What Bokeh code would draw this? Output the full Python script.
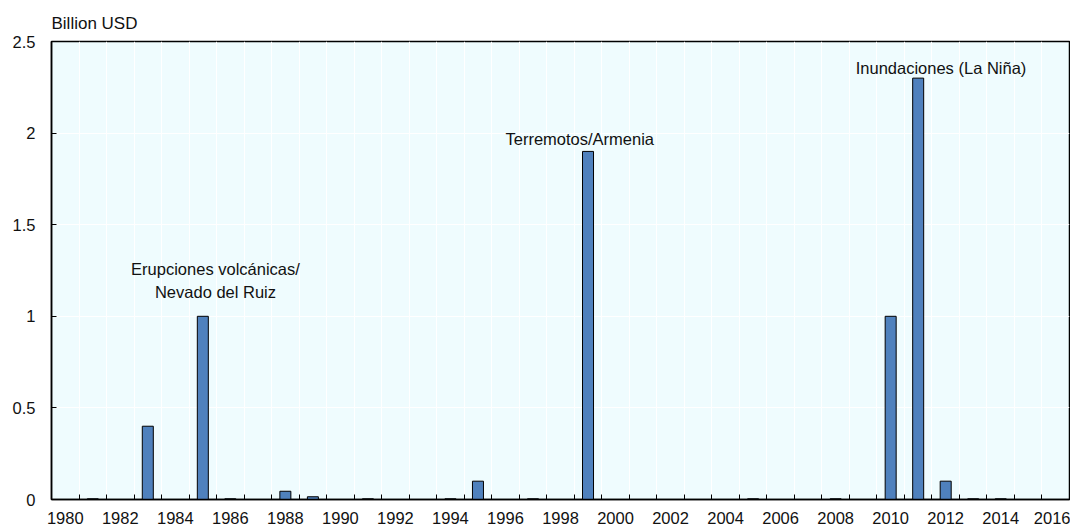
from bokeh.plotting import figure
from bokeh.models import Range1d, FixedTicker, ColumnDataSource
from bokeh.embed import file_html
from bokeh.resources import INLINE
from bokeh.core.properties import value

# ---- data ----
years = list(range(1980, 2017))
losses = [0, 0.004, 0, 0.40, 0, 1.0, 0.004, 0, 0.045, 0.015,
          0, 0.004, 0, 0, 0.004, 0.10, 0, 0.004, 0, 1.90,
          0, 0, 0, 0, 0, 0.004, 0, 0, 0.004, 0,
          1.0, 2.30, 0.10, 0.004, 0.004, 0, 0]
y_ticks = [0, 0.5, 1, 1.5, 2, 2.5]
y_tick_labels = ["0", "0.5", "1", "1.5", "2", "2.5"]
x_label_years = list(range(1980, 2017, 2))
x_tick_labels = [str(y) for y in x_label_years]

ann_text = ["Erupciones volcánicas/", "Nevado del Ruiz", "Terremotos/Armenia", "Inundaciones (La Niña)"]
ann_x = [1985.46, 1985.46, 1998.7, 2011.83]
ann_y = [1.257, 1.131, 1.966, 2.358]

FONT = "Liberation Sans"
FS = "16.5px"

bx = [x for x, v in zip(years, losses) if v > 0]
bv = [v for v in losses if v > 0]
src = ColumnDataSource(dict(x=bx, top=bv))

p = figure(width=1070, height=526, output_backend="svg", toolbar_location=None,
           x_range=Range1d(years[0] - 0.5, years[-1] + 0.5),
           y_range=Range1d(0, 2.5),
           min_border_left=51, min_border_right=1, min_border_top=41, min_border_bottom=25)

p.background_fill_color = "#EFFCFE"
p.border_fill_color = "white"
p.outline_line_color = "black"
p.outline_line_width = 1.5

p.title.text = "Billion USD"
p.title.text_font = FONT
p.title.text_font_size = "17px"
p.title.text_font_style = "normal"
p.title.text_color = "#111111"
p.title.align = "left"
p.title.standoff = 17

p.vbar(x="x", top="top", width=0.4, source=src,
       fill_color="#4F81BD", line_color="black", line_width=1)

boundaries = [y - 0.5 for y in years] + [years[-1] + 0.5]

xa = p.xaxis[0]
xa.ticker = FixedTicker(ticks=x_label_years, minor_ticks=boundaries)
xa.major_label_overrides = {y: t for y, t in zip(x_label_years, x_tick_labels)}
xa.major_tick_line_color = None
xa.minor_tick_in = 5
xa.minor_tick_out = 0
xa.minor_tick_line_color = "black"
xa.minor_tick_line_width = 1
xa.axis_line_color = "black"
xa.axis_line_width = 1.5
xa.major_label_standoff = 6
xa.major_label_text_font = FONT
xa.major_label_text_font_size = FS
xa.major_label_text_color = "#111111"

ya = p.yaxis[0]
ya.ticker = FixedTicker(ticks=y_ticks, minor_ticks=[])
ya.major_label_overrides = {t: l for t, l in zip(y_ticks, y_tick_labels)}
ya.major_tick_in = 5
ya.major_tick_out = 0
ya.major_tick_line_color = "black"
ya.minor_tick_line_color = None
ya.axis_line_color = "black"
ya.axis_line_width = 1.5
ya.major_label_standoff = 16
ya.major_label_text_font = FONT
ya.major_label_text_font_size = FS
ya.major_label_text_color = "#111111"

p.xgrid.ticker = FixedTicker(ticks=boundaries)
p.xgrid.grid_line_color = "white"
p.xgrid.grid_line_width = 1
p.ygrid.grid_line_color = "white"
p.ygrid.grid_line_width = 1

ann = ColumnDataSource(dict(x=ann_x, y=ann_y, text=ann_text))
p.text(x="x", y="y", text="text", source=ann, text_align="center", text_baseline="middle",
       text_font=value(FONT), text_font_size=FS, text_color="#111111")

open("out.html", "w").write(file_html(p, INLINE))
